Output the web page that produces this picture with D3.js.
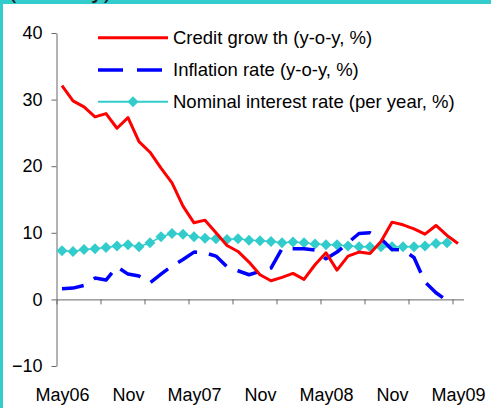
<!DOCTYPE html>
<html>
<head>
<meta charset="utf-8">
<script src="https://cdn.jsdelivr.net/npm/d3@7"></script>
<style>
  body { margin: 0; }
  svg { display: block; font-family: "Liberation Sans", Arial, sans-serif; }
</style>
</head>
<body>
<svg id="chart" width="491" height="408"></svg>
<script>
// months May06 .. May09
const months = ["May06","Jun06","Jul06","Aug06","Sep06","Oct06","Nov06","Dec06","Jan07","Feb07","Mar07","Apr07",
  "May07","Jun07","Jul07","Aug07","Sep07","Oct07","Nov07","Dec07","Jan08","Feb08","Mar08","Apr08",
  "May08","Jun08","Jul08","Aug08","Sep08","Oct08","Nov08","Dec08","Jan09","Feb09","Mar09","Apr09","May09"];

const creditGrowth = [32.1, 29.8, 28.9, 27.4, 27.9, 25.7, 27.3, 23.7, 22.1, 19.7, 17.5, 14.0,
  11.5, 11.9, 10.0, 8.1, 7.2, 5.6, 3.7, 2.8, 3.3, 3.9, 3.0, 5.2,
  7.0, 4.4, 6.5, 7.1, 6.9, 8.7, 11.6, 11.2, 10.6, 9.8, 11.1, 9.6, 8.4];

const inflation = [1.6, 1.7, 2.1, 3.2, 2.9, 4.9, 3.8, 3.5, 2.5, 3.8, 5.0, 6.0,
  7.1, 7.0, 6.5, 4.9, 4.3, 3.7, 4.2, 4.7, 7.6, 7.6, 7.6, 7.4,
  6.1, 7.1, 8.5, 9.9, 10.0, 9.1, 7.5, 7.4, 6.3, 2.6, 1.0, -0.2];

const interestRate = [7.3, 7.2, 7.5, 7.6, 7.8, 8.0, 8.2, 7.9, 8.5, 9.4, 9.9, 9.8,
  9.4, 9.2, 9.1, 9.0, 9.1, 8.9, 8.8, 8.7, 8.5, 8.6, 8.5, 8.3,
  8.2, 8.2, 8.0, 7.9, 7.9, 7.9, 7.9, 7.9, 7.9, 8.0, 8.4, 8.5];

const yTicks = [-10, 0, 10, 20, 30, 40];
const xLabelIdx = [0, 6, 12, 18, 24, 30, 36];
const xLabels = ["May06", "Nov", "May07", "Nov", "May08", "Nov", "May09"];

const legendNames = ["Credit grow th (y-o-y, %)", "Inflation rate (y-o-y, %)", "Nominal interest rate (per year, %)"];

const svg = d3.select("#chart");
const width = +svg.attr("width");
const height = +svg.attr("height");

const teal = "#33CCCC";

// frame
svg.append("rect").attr("width", width).attr("height", height).attr("fill", teal);
svg.append("rect").attr("x", 3).attr("y", 4).attr("width", width - 3).attr("height", height - 4).attr("fill", "#fff");
svg.append("text")
  .attr("x", 8).attr("y", -2)
  .attr("font-size", 25)
  .attr("fill", "#222")
  .text("(monthly)");

const x = d3.scaleLinear().domain([-0.5, months.length - 0.5]).range([56.5, 463.5]);
const y = d3.scaleLinear().domain([-10, 40]).range([366, 33]);

// y axis
const yAxis = svg.append("g")
  .attr("transform", `translate(${x(-0.5)},0)`)
  .call(d3.axisLeft(y).tickValues(yTicks).tickSize(5).tickSizeOuter(0).tickPadding(9).tickFormat(d3.format("d")));
yAxis.select(".domain").attr("stroke", "#666");
yAxis.selectAll(".tick line").attr("stroke", "#666");
yAxis.selectAll("text").attr("font-size", 18).attr("fill", "#000")
  .attr("font-family", "Liberation Sans, Arial, sans-serif");

// x axis line at zero, tick marks every 4 months
const xTickVals = d3.range(-0.5, months.length - 1, 4);
const xAxis = svg.append("g")
  .attr("transform", `translate(0,${y(0)})`)
  .call(d3.axisBottom(x).tickValues(xTickVals).tickSize(5).tickSizeOuter(0).tickFormat(""));
xAxis.select(".domain").attr("stroke", "#666");
xAxis.selectAll(".tick line").attr("stroke", "#666");

// x labels at bottom
const xLab = svg.append("g")
  .attr("transform", `translate(0,${y(-10)})`)
  .call(d3.axisBottom(x).tickValues(xLabelIdx).tickSize(0).tickPadding(22)
    .tickFormat((d, i) => xLabels[i]));
xLab.select(".domain").remove();
xLab.selectAll("text").attr("font-size", 18).attr("fill", "#000")
  .attr("font-family", "Liberation Sans, Arial, sans-serif");

const line = d3.line().x((d, i) => x(i)).y(d => y(d));

const diamond = "M0,-5.5L5.5,0L0,5.5L-5.5,0Z";

// nominal interest rate
svg.append("path")
  .datum(interestRate)
  .attr("d", line)
  .attr("fill", "none")
  .attr("stroke", teal)
  .attr("stroke-width", 1.5);

svg.append("g").selectAll("path")
  .data(interestRate)
  .enter()
  .append("path")
  .attr("transform", (d, i) => `translate(${x(i)},${y(d)})`)
  .attr("d", diamond)
  .attr("fill", teal);

// inflation
svg.append("path")
  .datum(inflation)
  .attr("d", line)
  .attr("fill", "none")
  .attr("stroke", "#0000FF")
  .attr("stroke-width", 3.5)
  .attr("stroke-dasharray", "22,12")
  .attr("stroke-linejoin", "round");

// credit growth
svg.append("path")
  .datum(creditGrowth)
  .attr("d", line)
  .attr("fill", "none")
  .attr("stroke", "#FF0000")
  .attr("stroke-width", 3)
  .attr("stroke-linejoin", "round");

// legend
const legY = [37.7, 70, 101.7];
const leg = svg.append("g");

leg.append("line")
  .attr("x1", 98).attr("x2", 168).attr("y1", legY[0]).attr("y2", legY[0])
  .attr("stroke", "#FF0000").attr("stroke-width", 3);

leg.append("line")
  .attr("x1", 98).attr("x2", 162).attr("y1", legY[1]).attr("y2", legY[1])
  .attr("stroke", "#0000FF").attr("stroke-width", 3.5)
  .attr("stroke-dasharray", "25,14");

leg.append("line")
  .attr("x1", 98).attr("x2", 168).attr("y1", legY[2]).attr("y2", legY[2])
  .attr("stroke", teal).attr("stroke-width", 2);
leg.append("path")
  .attr("transform", `translate(133,${legY[2]})`)
  .attr("d", diamond)
  .attr("fill", teal);

leg.selectAll("text")
  .data(legendNames)
  .enter()
  .append("text")
  .attr("x", 173)
  .attr("y", (d, i) => legY[i])
  .attr("dy", "0.35em")
  .attr("font-size", 18.5)
  .attr("fill", "#000")
  .text(d => d);
</script>
</body>
</html>
